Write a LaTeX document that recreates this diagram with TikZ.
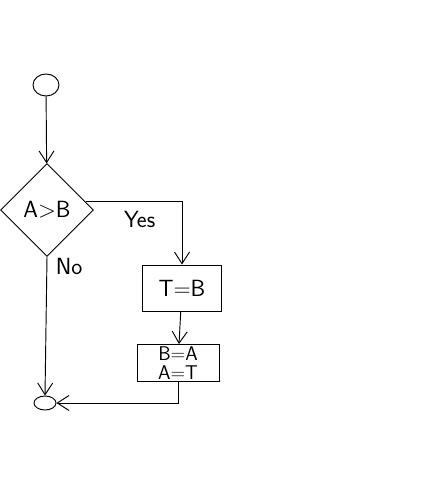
\documentclass[tikz,border=0pt]{standalone}
\usepackage{tikz}
\usetikzlibrary{arrows.meta,positioning,shapes.geometric}

\begin{document}
\begin{tikzpicture}[x=0.03cm,y=-0.03cm,line width=0.8pt,
    font=\sffamily\fontsize{20}{22}\selectfont,
    terminal/.style={draw,ellipse,inner sep=0pt},
    decision/.style={draw,diamond,aspect=1,inner sep=0pt,minimum width=2.79cm,minimum height=2.79cm},
    process/.style={draw,rectangle,inner sep=2pt},
    flow/.style={-{Straight Barb[length=3.5mm,width=4.5mm]}}]
  \useasboundingbox (0,0) rectangle (423,480);
  % nodes
  \node[terminal,minimum width=0.78cm,minimum height=0.66cm] (start) at (46,85) {};
  \node[decision] (cond) at (47,210) {A>B};
  \node[process,minimum width=2.37cm,minimum height=1.38cm] (setT) at (182,288) {T=B};
  \node[process,minimum width=2.46cm,minimum height=1.11cm,align=center,inner sep=1pt,
        font=\sffamily\fontsize{17}{16}\selectfont] (swap) at (178,363) {B=A\\A=T};
  \node[terminal,minimum width=0.66cm,minimum height=0.42cm] (stop) at (45,403) {};
  % connectors
  \draw[flow] (start) -- (cond);
  \draw[flow] (cond.12) -| node[pos=0.28,below=4pt] (yes) {Yes} (setT.north);
  \draw[flow] (setT) -- (swap);
  \draw[flow] (cond.south) -- node[pos=0.07,right=4pt] (no) {No} (stop.north);
  \draw[flow] (swap.south) |- (stop.east);
\end{tikzpicture}
\end{document}
